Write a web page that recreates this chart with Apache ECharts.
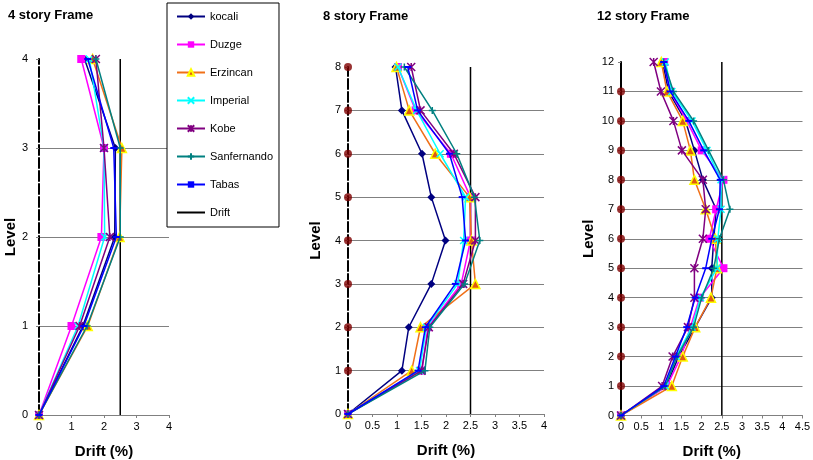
<!DOCTYPE html>
<html><head><meta charset="utf-8">
<script src="https://cdn.jsdelivr.net/npm/echarts@6/dist/echarts.min.js"></script>
<style>html,body{margin:0;padding:0;background:#fff}#c{width:813px;height:460px}</style>
</head><body><div id="c"></div>
<script>
// ---- data ----
const seriesNames = ['kocali','Duzge','Erzincan','Imperial','Kobe','Sanfernando','Tabas'];
const panelTitles = ['4 story Frame','8 story Frame','12 story Frame'];
const driftLimit = 2.5;

// 4 story frame: drift (%) at levels 0..4
const levels4 = [0,1,2,3,4];
const kocali4      = [0,1.35,2.33,2.35,1.40];
const duzge4       = [0,1.00,1.92,2.00,1.30];
const erzincan4    = [0,1.50,2.48,2.55,1.65];
const imperial4    = [0,1.20,2.02,2.00,1.55];
const kobe4        = [0,1.25,2.18,2.00,1.75];
const sanfernando4 = [0,1.48,2.50,2.50,1.75];
const tabas4       = [0,1.38,2.38,2.30,1.50];

// 8 story frame: levels 0..8
const levels8 = [0,1,2,3,4,5,6,7,8];
const kocali8      = [0,1.10,1.24,1.70,1.99,1.70,1.51,1.10,0.97];
const duzge8       = [0,1.51,1.63,2.31,2.50,2.50,2.10,1.38,1.02];
const erzincan8    = [0,1.30,1.48,2.60,2.52,2.48,1.78,1.25,0.99];
const imperial8    = [0,1.46,1.60,2.24,2.36,2.40,1.88,1.40,1.02];
const kobe8        = [0,1.50,1.65,2.35,2.60,2.60,2.16,1.48,1.29];
const sanfernando8 = [0,1.57,1.67,2.38,2.69,2.58,2.22,1.72,1.15];
const tabas8       = [0,1.43,1.58,2.19,2.40,2.33,2.07,1.42,1.22];

// 12 story frame: levels 0..12
const levels12 = [0,1,2,3,4,5,6,7,8,9,10,11,12];
const kocali12      = [0,1.12,1.43,1.84,2.25,2.25,2.30,2.36,2.03,1.82,1.60,1.18,1.03];
const duzge12       = [0,1.14,1.49,1.72,1.95,2.54,2.19,2.36,2.54,2.00,1.63,1.22,1.07];
const erzincan12    = [0,1.26,1.53,1.84,2.23,2.38,2.34,2.10,1.82,1.72,1.53,1.14,1.00];
const imperial12    = [0,1.10,1.37,1.76,1.97,2.38,2.40,2.48,2.48,2.13,1.76,1.26,1.10];
const kobe12        = [0,1.02,1.28,1.66,1.82,1.82,2.03,2.10,2.03,1.51,1.30,0.99,0.81];
const sanfernando12 = [0,1.10,1.39,1.80,2.00,2.30,2.44,2.70,2.54,2.17,1.80,1.30,1.06];
const tabas12       = [0,1.06,1.35,1.63,1.84,2.10,2.25,2.44,2.46,2.05,1.68,1.22,1.06];

// reference points on the zero-drift axis
const zeroPoints8  = [1,2,3,4,5,6,7,8];
const zeroPoints12 = [1,2,3,4,5,6,7,8,9,10,11];

const panels = [
  {levels: levels4,  data: [kocali4,duzge4,erzincan4,imperial4,kobe4,sanfernando4,tabas4], zero: [], xMax: 4, xInt: 1, top: 4},
  {levels: levels8,  data: [kocali8,duzge8,erzincan8,imperial8,kobe8,sanfernando8,tabas8], zero: zeroPoints8, xMax: 4, xInt: 0.5, top: 8},
  {levels: levels12, data: [kocali12,duzge12,erzincan12,imperial12,kobe12,sanfernando12,tabas12], zero: zeroPoints12, xMax: 4.5, xInt: 0.5, top: 12}
];

// ---- styles ----
const FONT = 'Liberation Sans';
const styles = {
  kocali:      {color:'#000080', symbol:'diamond', size:8, item:{color:'#000080'}},
  Duzge:       {color:'#FF00FF', symbol:'rect', size:8, item:{color:'#FF00FF'}},
  Erzincan:    {color:'#F07018', symbol:'triangle', size:9, item:{color:'#E05A10', borderColor:'#FFFF00', borderWidth:1.5}},
  Imperial:    {color:'#00FFFF', symbol:'path://M0,0L10,10M10,0L0,10', size:7, item:{color:'rgba(0,0,0,0)', borderColor:'#00FFFF', borderWidth:1.5}},
  Kobe:        {color:'#800080', symbol:'path://M0,0L10,10M10,0L0,10M5,0L5,10', size:8, item:{color:'rgba(0,0,0,0)', borderColor:'#800080', borderWidth:1.5}},
  Sanfernando: {color:'#008080', symbol:'path://M5,0L5,10M0,5L10,5', size:7, item:{color:'rgba(0,0,0,0)', borderColor:'#008080', borderWidth:1.5}},
  Tabas:       {color:'#0000FF', symbol:'rect', size:[7,2], item:{color:'#0000FF'}}
};

const grids = [
  {left:39,  top:59, width:130,   height:356,   outerBoundsMode:'none', containLabel:false},
  {left:348, top:67, width:196,   height:347,   outerBoundsMode:'none', containLabel:false},
  {left:621, top:62, width:181.5, height:353.5, outerBoundsMode:'none', containLabel:false}
];
const yNameGap = [21, 25, 25];
const yLabelMargin = [11, 7, 7];
const axisLineTypes = [[10,3],[10,3],'solid'];

const xAxes = [], yAxes = [], series = [];
panels.forEach((p, i) => {
  xAxes.push({
    gridIndex:i, type:'value', min:0, max:p.xMax, interval:p.xInt,
    name:'Drift (%)', nameLocation:'middle', nameGap:29,
    nameTextStyle:{fontFamily:FONT, fontSize:15, fontWeight:'bold', color:'#000'},
    axisLine:{show:true, onZero:false, lineStyle:{color:'#808080', width:1}},
    axisTick:{show:true, length:3, lineStyle:{color:'#808080'}},
    axisLabel:{fontFamily:FONT, fontSize:11, color:'#000', margin:6},
    splitLine:{show:false}
  });
  yAxes.push({
    gridIndex:i, type:'value', min:0, max:p.top, interval:1,
    name:'Level', nameLocation:'middle', nameGap:yNameGap[i], nameRotate:90,
    nameTextStyle:{fontFamily:FONT, fontSize:15, fontWeight:'bold', color:'#000'},
    axisLine:{show:true, onZero:false, lineStyle:{color:'#000', width:2, type:axisLineTypes[i]}},
    axisTick:{show:true, length:3, lineStyle:{color:'#808080'}},
    axisLabel:{fontFamily:FONT, fontSize:11, color:'#000', margin:yLabelMargin[i]},
    splitLine:{show:true, showMinLine:false, showMaxLine:false, lineStyle:{color:'#808080', width:1}}
  });
  seriesNames.forEach((name, k) => {
    const s = styles[name];
    series.push({
      name, type:'line', xAxisIndex:i, yAxisIndex:i, clip:false,
      data: p.levels.map((lv, j) => [p.data[k][j], lv]),
      symbol:s.symbol, symbolSize:s.size, showSymbol:true,
      lineStyle:{color:s.color, width:1.5},
      itemStyle:s.item, color:s.color,
      emphasis:{disabled:true}, z:3+k
    });
  });
  series.push({
    name:'Drift', type:'line', xAxisIndex:i, yAxisIndex:i, clip:false,
    data:[[driftLimit,0],[driftLimit,p.top]], symbol:'none', color:'#000',
    lineStyle:{color:'#000', width:1.5}, emphasis:{disabled:true}, z:2
  });
  if (p.zero.length) {
    series.push({
      type:'scatter', xAxisIndex:i, yAxisIndex:i, clip:false,
      data:p.zero.map(lv => [0, lv]), symbol:'circle', symbolSize:8,
      itemStyle:{color:'#800000'}, emphasis:{disabled:true}, z:2, silent:true
    });
  }
});

const chart = echarts.init(document.getElementById('c'), null, {renderer:'canvas'});
chart.setOption({
  animation:false,
  backgroundColor:'#fff',
  title: [
    {text:panelTitles[0], left:3, top:4},
    {text:panelTitles[1], left:318, top:5},
    {text:panelTitles[2], left:592, top:5}
  ].map(t => Object.assign(t, {textStyle:{fontFamily:FONT, fontSize:13, fontWeight:'bold', color:'#000'}})),
  legend: {
    orient:'vertical', left:167, top:3,
    data: seriesNames.concat([{name:'Drift', icon:'path://M0,0L28,0L28,2L0,2Z', itemStyle:{color:'#000'}}]),
    itemWidth:28, itemHeight:8, itemGap:17,
    padding:[8,6,9,9],
    borderColor:'#000', borderWidth:1, backgroundColor:'#fff',
    textStyle:{fontFamily:FONT, fontSize:11, color:'#000'},
    selectedMode:false
  },
  grid: grids,
  xAxis: xAxes,
  yAxis: yAxes,
  series
});
</script></body></html>
